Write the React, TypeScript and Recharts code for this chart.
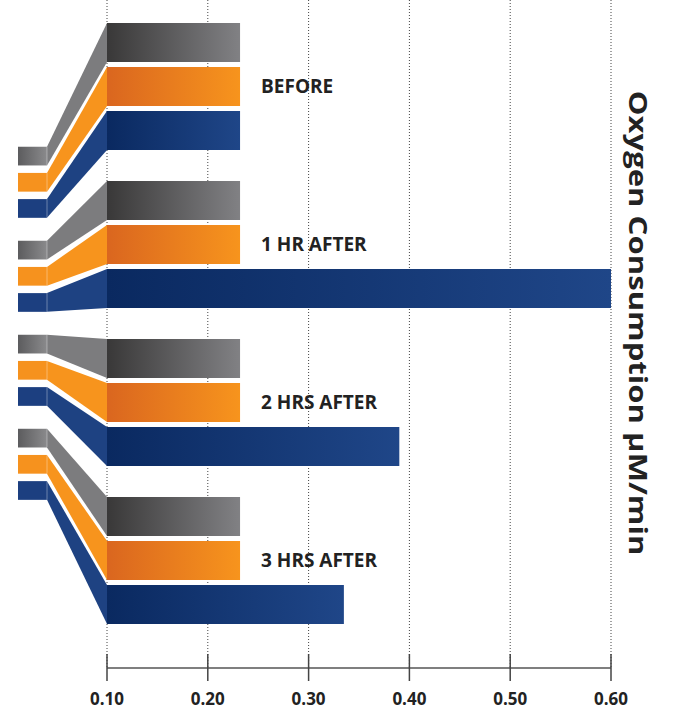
import React from 'react';
import { BarChart, Bar, XAxis, YAxis, CartesianGrid, LabelList } from 'recharts';

// groups, top to bottom
const categories = ['BEFORE', '1 HR AFTER', '2 HRS AFTER', '3 HRS AFTER'];
// Oxygen consumption, µM/min
const grayValues = [0.232, 0.232, 0.232, 0.232];
const orangeValues = [0.232, 0.232, 0.232, 0.232];
const blueValues = [0.232, 0.6, 0.39, 0.335];
const xTicks = [0.1, 0.2, 0.3, 0.4, 0.5, 0.6];

const data = categories.map((name, i) => ({
  name,
  gray: grayValues[i],
  orange: orangeValues[i],
  blue: blueValues[i],
}));

const W = 687;
const H = 724;
const AXIS_H = 56;
const PAD_TOP = 7;
const PAD_BOTTOM = 29;
// the little tabs on the left are the bars squeezed towards the middle
const MID = (PAD_TOP + (H - AXIS_H - PAD_BOTTOM)) / 2;
const SQUEEZE = 0.595;
const TAB_H = 0.48;

const makeShape = (key: string, tab: string, conn: string) => (props: any) => {
  const { x, y, width, height } = props;
  if (!height) return null;
  const cy = y + height / 2;
  const sh = height * TAB_H;
  const sy = MID + (cy - MID) * SQUEEZE - sh / 2;
  const t0 = x - 89;
  const t1 = x - 60;
  return (
    <g>
      <rect x={t0} y={sy} width={t1 - t0} height={sh} fill={tab} />
      <polygon
        points={`${t1},${sy} ${x},${y} ${x},${y + height} ${t1},${sy + sh}`}
        fill={conn}
      />
      <line x1={t1} x2={t1} y1={sy} y2={sy + sh} stroke="rgba(255,255,255,0.35)" />
      <rect x={x} y={y} width={width} height={height} fill={`url(#bar-${key})`} />
    </g>
  );
};

const grayShape = makeShape('gray', 'url(#tab-gray)', '#7c7c7e');
const orangeShape = makeShape('orange', '#f6921e', '#f7941d');
const blueShape = makeShape('blue', '#1c3f80', '#1e4282');

const AxisTick = (props: any) => {
  const { x, y, payload } = props;
  return (
    <g>
      <line x1={x} x2={x} y1={y - 14} y2={y + 13} stroke="#444" strokeWidth={1.5} />
      <text
        x={x}
        y={y + 37}
        textAnchor="middle"
        fill="#222"
        fontSize={17}
        fontWeight={700}
        fontFamily="'Open Sans', sans-serif"
      >
        {Number(payload.value).toFixed(2)}
      </text>
    </g>
  );
};

export default function App() {
  return (
    <div style={{ position: 'absolute', left: 0, top: 0 }}>
      <BarChart
        width={W}
        height={H}
        data={data}
        layout="vertical"
        margin={{ top: 0, right: 76, bottom: 0, left: 107 }}
        barCategoryGap={16}
        barGap={5}
        style={{ fontFamily: "'Open Sans', sans-serif" }}
      >
        <defs>
          <linearGradient id="bar-gray" x1="0" y1="0" x2="1" y2="0">
            <stop offset="0%" stopColor="#393838" />
            <stop offset="100%" stopColor="#818184" />
          </linearGradient>
          <linearGradient id="bar-orange" x1="0" y1="0" x2="1" y2="0">
            <stop offset="0%" stopColor="#da661f" />
            <stop offset="100%" stopColor="#f7941d" />
          </linearGradient>
          <linearGradient id="bar-blue" x1="0" y1="0" x2="1" y2="0">
            <stop offset="0%" stopColor="#0a2960" />
            <stop offset="100%" stopColor="#1f4688" />
          </linearGradient>
          <linearGradient id="tab-gray" x1="0" y1="0" x2="1" y2="0">
            <stop offset="0%" stopColor="#5c5c5e" />
            <stop offset="100%" stopColor="#8a8a8c" />
          </linearGradient>
        </defs>
        <XAxis
          type="number"
          domain={[0.1, 0.6]}
          ticks={xTicks}
          height={AXIS_H}
          tickLine={false}
          tickSize={0}
          tickMargin={0}
          tick={<AxisTick />}
          axisLine={{ stroke: '#555', strokeWidth: 1.5 }}
        />
        <YAxis
          type="category"
          dataKey="name"
          hide
          width={0}
          padding={{ top: PAD_TOP, bottom: PAD_BOTTOM }}
        />
        <Bar dataKey="gray" shape={grayShape} isAnimationActive={false} />
        <Bar dataKey="orange" shape={orangeShape} isAnimationActive={false}>
          <LabelList
            dataKey="name"
            position="right"
            offset={21}
            fill="#222"
            fontSize={19}
            fontWeight={700}
          />
        </Bar>
        <Bar dataKey="blue" shape={blueShape} isAnimationActive={false} />
        <CartesianGrid horizontal={false} stroke="#444" strokeDasharray="1 2" />
        <text
          transform={`translate(629, ${MID}) rotate(90) scale(1.245, 1)`}
          textAnchor="middle"
          fill="#222"
          fontSize={25}
          fontWeight={700}
        >
          Oxygen Consumption μM/min
        </text>
      </BarChart>
    </div>
  );
}
